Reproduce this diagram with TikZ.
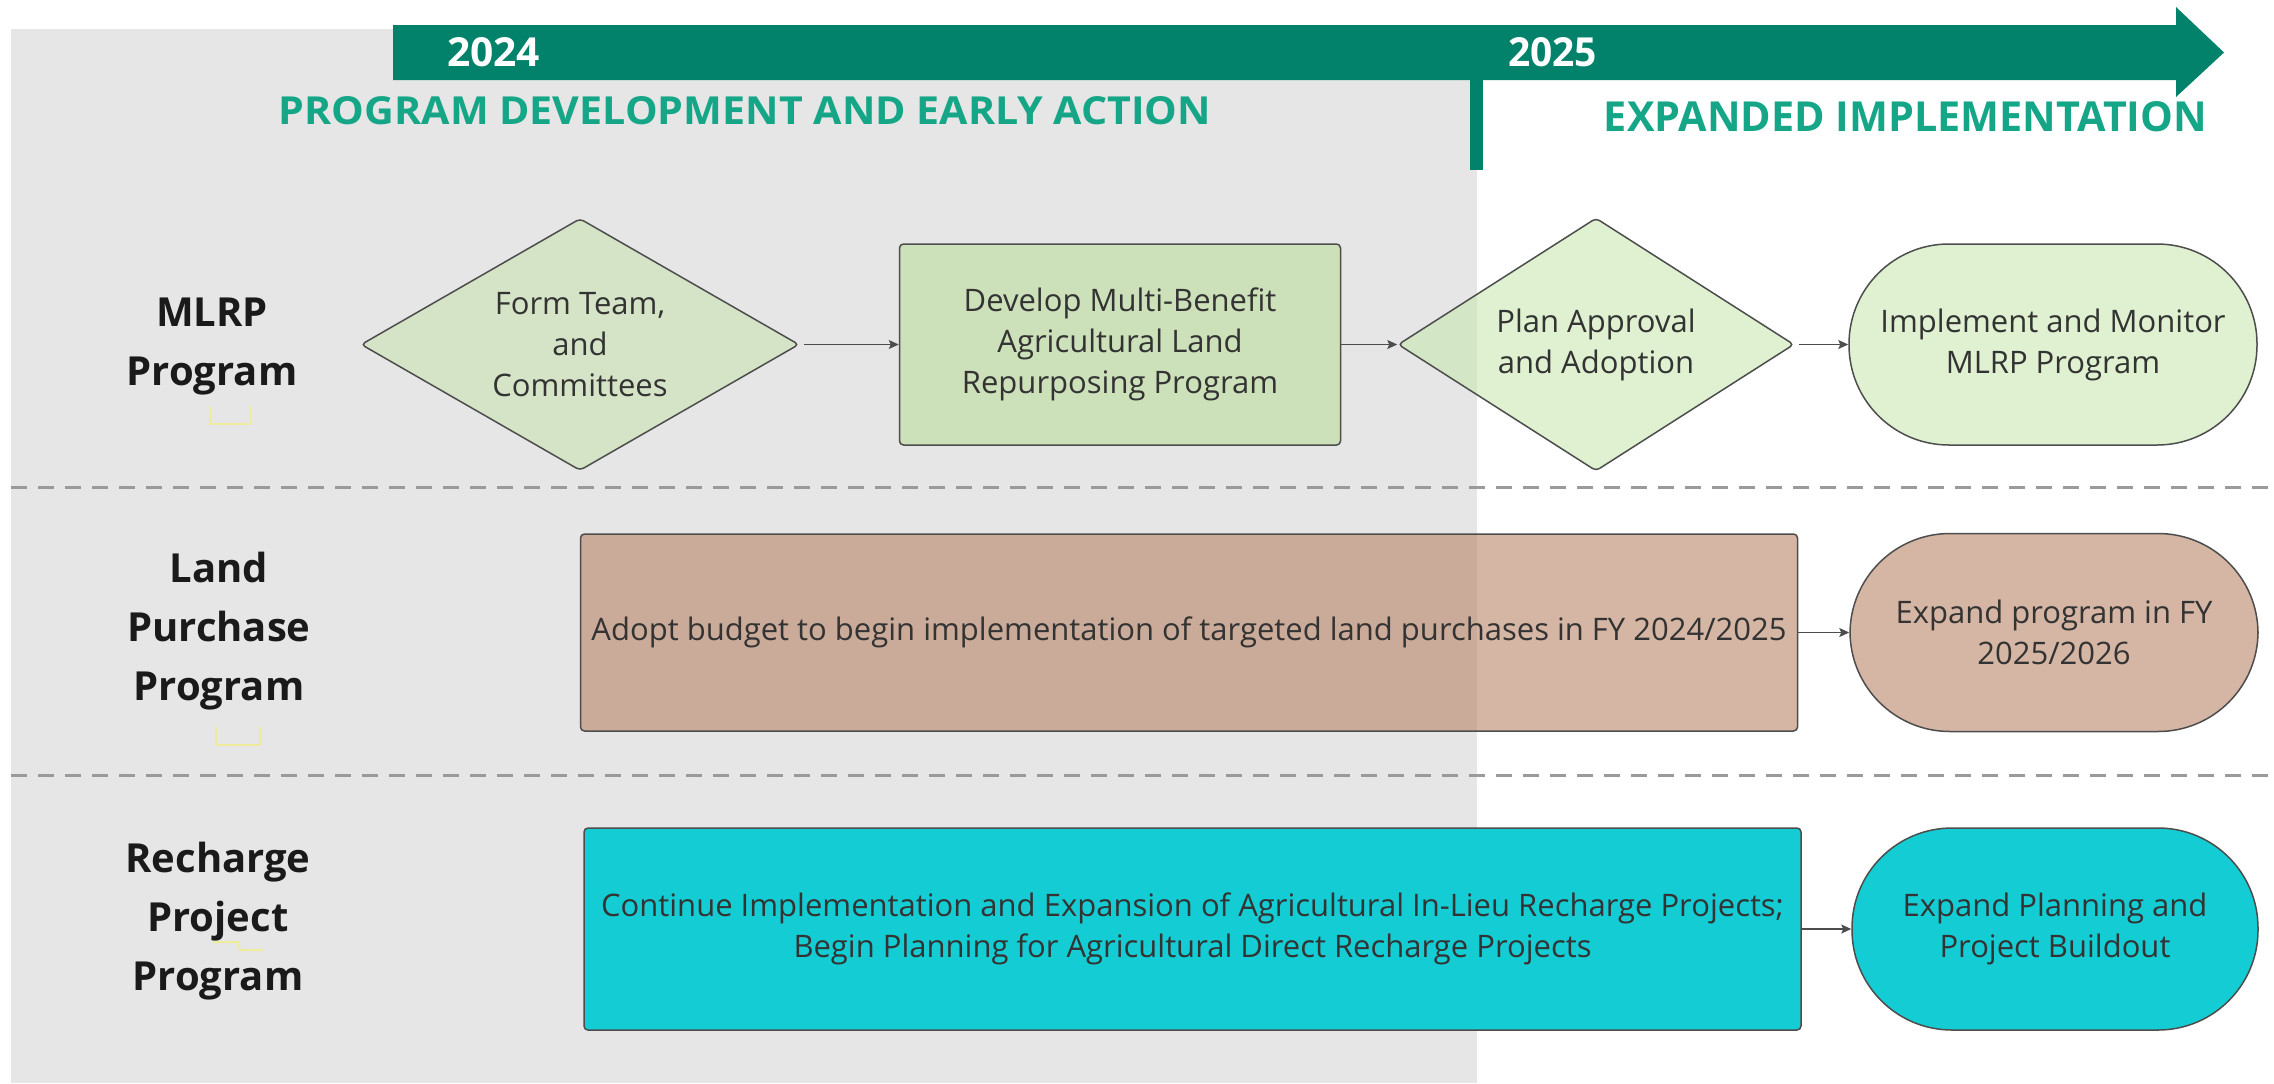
\documentclass[tikz,border=0pt]{standalone}
\usepackage{fontspec}
\setmainfont{Open Sans}
\usepackage{graphicx}
\usetikzlibrary{shapes.geometric,arrows.meta}

\definecolor{bargreen}{HTML}{02826A}
\definecolor{titlegreen}{HTML}{14A686}
\definecolor{bggray}{HTML}{E6E6E6}
\definecolor{dashgray}{HTML}{9A9A9A}
\definecolor{edgecol}{HTML}{4D4D4D}
\definecolor{txtcol}{HTML}{333333}
\definecolor{labcol}{HTML}{1A1A1A}
\definecolor{greenA}{HTML}{D5E3C6}
\definecolor{greenB}{HTML}{CCE0B9}
\definecolor{greenC}{HTML}{C5E7AA}
\definecolor{brownC}{HTML}{B37959}
\definecolor{cyanC}{HTML}{14CCD3}
\definecolor{markyellow}{HTML}{EFEB9C}

\begin{document}
\begin{tikzpicture}[x=0.5pt,y=-0.5pt,
  bodytext/.style={align=center, text=txtcol, font=\fontsize{15.5}{20.5}\selectfont, inner sep=0pt},
  boxnode/.style={bodytext, rectangle, draw=edgecol, line width=0.75pt, rounded corners=2pt},
  diamnode/.style={bodytext, diamond, draw=edgecol, line width=0.75pt, rounded corners=2pt, aspect=1.7},
  stadnode/.style={bodytext, rectangle, draw=edgecol, line width=0.75pt, rounded corners=50pt},
  seethru/.style={fill opacity=0.55, text opacity=1},
  rowlabel/.style={align=center, text=labcol, font=\bfseries\fontsize{20}{29.5}\selectfont, inner sep=0pt},
  conn/.style={draw=edgecol, line width=0.6pt, -{Stealth[length=5pt,width=4.5pt,inset=1pt]}},
  dashline/.style={draw=dashgray, line width=1.5pt, dash pattern=on 8pt off 5.5pt},
  ymark/.style={draw=markyellow, line width=1pt}
]
\useasboundingbox (0,0) rectangle (2274,1083);
\fill[white] (0,0) rectangle (2274,1083);

% gray early-phase background
\fill[bggray] (11,29) rectangle (1477,1083);

% timeline arrow
\fill[bargreen] (393,25) -- (2176,25) -- (2176,7) -- (2224,52.5) -- (2176,97) -- (2176,80) -- (393,80) -- cycle;
\fill[bargreen] (1470,79) rectangle (1483,170);

\node[text=white, inner sep=0pt] (y2024) at (493.5,52.5) {\resizebox{46.5pt}{14.5pt}{\bfseries 2024}};
\node[text=white, inner sep=0pt] (y2025) at (1552.5,52.5) {\resizebox{44.5pt}{14.5pt}{\bfseries 2025}};
\node[text=titlegreen, inner sep=0pt] (ph1) at (745,111) {\resizebox{466pt}{14pt}{\bfseries PROGRAM DEVELOPMENT AND EARLY ACTION}};
\node[text=titlegreen, inner sep=0pt] (ph2) at (1905.5,117) {\resizebox{301.5pt}{15pt}{\bfseries EXPANDED IMPLEMENTATION}};

% separators
\draw[dashline] (11,487) -- (2274,487);
\draw[dashline] (11,775) -- (2274,775);

% row labels
\node[rowlabel] (lab1) at (212,347) {MLRP\\Program};
\node[rowlabel] (lab2) at (219,631) {Land\\Purchase\\Program};
\node[rowlabel] (lab3) at (218,921) {Recharge\\Project\\Program};

% small yellow marks
\draw[ymark] (210,406) -- (210,424) -- (250,424) -- (250,406);
\draw[ymark] (216,727) -- (216,745) -- (260,745) -- (260,727);
\draw[ymark] (213,942) -- (238,942) -- (240,950) -- (264,950);

% row 1
\node[diamnode, fill=greenA, minimum width=219pt, minimum height=126pt] (d1) at (580,344.5) {Form Team,\\and\\Committees};
\node[boxnode, fill=greenB, minimum width=220.5pt, minimum height=100.5pt] (r2) at (1120,344.5) {Develop Multi-Benefit\\Agricultural Land\\Repurposing Program};
\node[diamnode, fill=greenC, seethru, minimum width=198pt, minimum height=126.5pt] (d3) at (1596,344.5) {Plan Approval\\and Adoption};
\node[stadnode, fill=greenC, seethru, minimum width=204pt, minimum height=100.5pt] (s4) at (2053,344.5) {Implement and Monitor\\MLRP Program};

% row 2
\node[boxnode, fill=brownC, seethru, minimum width=608.5pt, minimum height=98.5pt] (r5) at (1189,632.5) {Adopt budget to begin implementation of targeted land purchases in FY 2024/2025};
\node[stadnode, fill=brownC, seethru, minimum width=204pt, minimum height=99pt] (s6) at (2054,632.5) {Expand program in FY\\2025/2026};

% row 3
\node[boxnode, fill=cyanC, minimum width=608.5pt, minimum height=101pt] (r7) at (1192.5,929) {Continue Implementation and Expansion of Agricultural In-Lieu Recharge Projects;\\Begin Planning for Agricultural Direct Recharge Projects};
\node[stadnode, fill=cyanC, minimum width=203pt, minimum height=101pt] (s8) at (2055,929) {Expand Planning and\\Project Buildout};

% connectors
\draw[conn, shorten <=2pt] (d1.east) -- (r2.west);
\draw[conn] (r2.east) -- (d3.west);
\draw[conn, shorten <=2pt] (d3.east) -- (s4.west);
\draw[conn] (r5.east) -- (s6.west);
\draw[conn] (r7.east) -- (s8.west);
\end{tikzpicture}
\end{document}
